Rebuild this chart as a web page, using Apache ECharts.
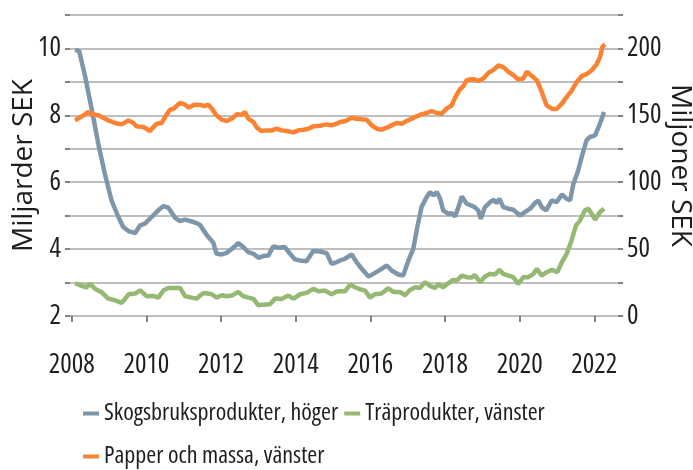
<!DOCTYPE html>
<html>
<head>
<meta charset="utf-8">
<script src="https://cdn.jsdelivr.net/npm/echarts@6/dist/echarts.min.js"></script>
<style>
  html, body { margin: 0; padding: 0; background: #fff; }
  #chart { width: 693px; height: 470px; }
</style>
</head>
<body>
<div id="chart"></div>
<script>
// year (decimal) / value
const skogsbruk = [ // Miljoner SEK, right axis
  [2008.09, 199], [2008.20, 198], [2008.36, 179], [2008.54, 154], [2008.71, 129],
  [2008.89, 106], [2009.07, 86], [2009.25, 74], [2009.38, 66.5], [2009.52, 63.5],
  [2009.70, 62], [2009.83, 67.7], [2009.96, 69], [2010.14, 74], [2010.32, 79],
  [2010.46, 82.2], [2010.59, 81], [2010.77, 73.4], [2010.90, 71], [2011.04, 72],
  [2011.17, 71], [2011.35, 69.4], [2011.44, 68], [2011.53, 64], [2011.66, 59],
  [2011.79, 55], [2011.88, 46.5], [2012.02, 46], [2012.15, 47.2], [2012.29, 50.2],
  [2012.46, 54.5], [2012.60, 51.5], [2012.73, 47.7], [2012.87, 46.5], [2013.00, 43.5],
  [2013.13, 44.8], [2013.27, 45.3], [2013.40, 52], [2013.54, 51], [2013.71, 51.5],
  [2013.85, 46.5], [2013.98, 42.3], [2014.12, 41.5], [2014.29, 41], [2014.47, 48.5],
  [2014.65, 48.2], [2014.83, 47], [2014.96, 39], [2015.10, 40.3], [2015.19, 41.5],
  [2015.32, 42.8], [2015.50, 46], [2015.63, 40.3], [2015.77, 35.3], [2015.95, 29.5],
  [2016.08, 31.5], [2016.26, 34.5], [2016.44, 37.8], [2016.57, 34], [2016.75, 31],
  [2016.88, 30.3], [2017.02, 41.5], [2017.15, 50.2], [2017.24, 64], [2017.37, 81.4],
  [2017.51, 88.9], [2017.60, 92.6], [2017.69, 90.1], [2017.78, 92.6], [2017.87, 87.6],
  [2017.95, 78.9], [2018.09, 76.4], [2018.18, 76.9], [2018.27, 74.4], [2018.36, 81.4],
  [2018.45, 89.4], [2018.58, 83.9], [2018.71, 82.5], [2018.80, 81.2], [2018.89, 78.9],
  [2018.96, 72.7], [2019.07, 81.4], [2019.21, 85.1], [2019.30, 86.9], [2019.38, 84.4],
  [2019.46, 87.6], [2019.56, 81.4], [2019.70, 80.2], [2019.83, 79.4], [2020.01, 75.2],
  [2020.14, 77.7], [2020.28, 80.2], [2020.41, 84.4], [2020.50, 86.4], [2020.59, 81.4],
  [2020.71, 78.9], [2020.86, 86.4], [2020.99, 85.1], [2021.13, 90.9], [2021.26, 87.6],
  [2021.35, 86.4], [2021.44, 98.9], [2021.57, 108.9], [2021.66, 118.8], [2021.79, 131.3],
  [2021.88, 133.8], [2022.02, 135], [2022.15, 143.7], [2022.26, 152.5]
];

const traprodukter = [ // Miljarder SEK, left axis
  [2008.09, 2.98], [2008.27, 2.90], [2008.40, 2.86], [2008.49, 2.96], [2008.63, 2.81],
  [2008.80, 2.71], [2008.98, 2.52], [2009.16, 2.47], [2009.34, 2.39], [2009.52, 2.65],
  [2009.70, 2.67], [2009.83, 2.77], [2010.01, 2.59], [2010.19, 2.60], [2010.32, 2.55],
  [2010.46, 2.77], [2010.59, 2.84], [2010.77, 2.84], [2010.90, 2.84], [2011.04, 2.59],
  [2011.21, 2.55], [2011.35, 2.52], [2011.48, 2.65], [2011.57, 2.69], [2011.75, 2.65],
  [2011.88, 2.55], [2012.02, 2.62], [2012.15, 2.59], [2012.29, 2.61], [2012.46, 2.72],
  [2012.60, 2.59], [2012.73, 2.55], [2012.87, 2.51], [2013.00, 2.32], [2013.13, 2.34],
  [2013.31, 2.35], [2013.45, 2.52], [2013.62, 2.51], [2013.80, 2.61], [2013.94, 2.52],
  [2014.12, 2.65], [2014.29, 2.69], [2014.47, 2.81], [2014.61, 2.74], [2014.79, 2.76],
  [2014.96, 2.65], [2015.10, 2.73], [2015.19, 2.74], [2015.32, 2.74], [2015.46, 2.94],
  [2015.59, 2.86], [2015.72, 2.80], [2015.86, 2.76], [2015.99, 2.55], [2016.12, 2.65],
  [2016.30, 2.67], [2016.48, 2.83], [2016.62, 2.72], [2016.79, 2.72], [2016.93, 2.62],
  [2017.06, 2.78], [2017.20, 2.86], [2017.33, 2.84], [2017.46, 3.01], [2017.60, 2.90],
  [2017.73, 2.84], [2017.82, 2.94], [2017.95, 2.86], [2018.09, 2.98], [2018.22, 3.08],
  [2018.31, 3.06], [2018.45, 3.21], [2018.58, 3.16], [2018.71, 3.15], [2018.80, 3.22],
  [2018.94, 3.01], [2019.07, 3.18], [2019.21, 3.26], [2019.34, 3.24], [2019.46, 3.38],
  [2019.56, 3.26], [2019.70, 3.21], [2019.83, 3.16], [2019.96, 2.96], [2020.10, 3.16],
  [2020.23, 3.16], [2020.37, 3.26], [2020.46, 3.41], [2020.59, 3.21], [2020.72, 3.31],
  [2020.86, 3.38], [2021.01, 3.31], [2021.13, 3.61], [2021.26, 3.86], [2021.39, 4.26],
  [2021.51, 4.71], [2021.62, 4.86], [2021.75, 5.16], [2021.84, 5.21], [2021.93, 5.06],
  [2022.02, 4.88], [2022.15, 5.11], [2022.26, 5.21]
];

const papper = [ // Miljarder SEK, left axis
  [2008.09, 7.85], [2008.27, 7.97], [2008.45, 8.10], [2008.54, 8.03], [2008.71, 8.00],
  [2008.80, 7.95], [2008.98, 7.85], [2009.16, 7.77], [2009.34, 7.73], [2009.52, 7.85],
  [2009.65, 7.77], [2009.74, 7.67], [2009.92, 7.65], [2010.10, 7.53], [2010.19, 7.65],
  [2010.28, 7.75], [2010.41, 7.77], [2010.50, 7.95], [2010.63, 8.17], [2010.72, 8.19],
  [2010.90, 8.37], [2011.04, 8.32], [2011.14, 8.23], [2011.26, 8.31], [2011.39, 8.32],
  [2011.57, 8.28], [2011.66, 8.32], [2011.75, 8.20], [2011.88, 8.00], [2012.02, 7.87],
  [2012.15, 7.83], [2012.29, 7.90], [2012.42, 8.03], [2012.55, 8.02], [2012.64, 8.10],
  [2012.73, 7.90], [2012.87, 7.80], [2012.96, 7.63], [2013.09, 7.53], [2013.22, 7.55],
  [2013.36, 7.55], [2013.49, 7.60], [2013.62, 7.55], [2013.76, 7.53], [2013.94, 7.49],
  [2014.07, 7.55], [2014.21, 7.57], [2014.34, 7.60], [2014.47, 7.67], [2014.65, 7.69],
  [2014.83, 7.73], [2014.96, 7.70], [2015.10, 7.75], [2015.19, 7.80], [2015.32, 7.82],
  [2015.50, 7.93], [2015.63, 7.90], [2015.77, 7.88], [2015.90, 7.87], [2016.04, 7.70],
  [2016.17, 7.60], [2016.30, 7.57], [2016.44, 7.63], [2016.57, 7.70], [2016.70, 7.77],
  [2016.84, 7.75], [2016.97, 7.83], [2017.11, 7.90], [2017.24, 7.97], [2017.37, 8.03],
  [2017.51, 8.07], [2017.64, 8.13], [2017.78, 8.07], [2017.91, 8.05], [2018.04, 8.20],
  [2018.18, 8.30], [2018.27, 8.53], [2018.40, 8.78], [2018.49, 8.87], [2018.58, 9.05],
  [2018.71, 9.08], [2018.80, 9.07], [2018.89, 9.03], [2019.03, 9.10], [2019.16, 9.27],
  [2019.30, 9.36], [2019.43, 9.49], [2019.56, 9.44], [2019.70, 9.30], [2019.83, 9.20],
  [2019.96, 9.08], [2020.10, 9.10], [2020.19, 9.30], [2020.32, 9.18], [2020.46, 9.05],
  [2020.59, 8.70], [2020.72, 8.30], [2020.86, 8.20], [2020.99, 8.19], [2021.13, 8.35],
  [2021.26, 8.55], [2021.39, 8.73], [2021.53, 9.00], [2021.66, 9.17], [2021.79, 9.23],
  [2021.93, 9.35], [2022.06, 9.52], [2022.15, 9.74], [2022.22, 10.06], [2022.29, 10.12]
];

const yearTicks = [2008, 2010, 2012, 2014, 2016, 2018, 2020, 2022];
const leftLabels = [2, 4, 6, 8, 10];
const rightLabels = [0, 50, 100, 150, 200];
const seriesNames = ['Skogsbruksprodukter, höger', 'Träprodukter, vänster', 'Papper och massa, vänster'];

// condensed Open Sans: 'condensed' goes into the canvas font string via fontWeight
const condFont = { fontFamily: '"Open Sans", sans-serif', fontWeight: 'condensed' };
const textCol = '#1e1e1e';
const gridCol = '#a8a8a8';
const tickCol = '#5a5a5a';

let chart = echarts.init(document.getElementById('chart'));

let option = {
  animation: false,
  grid: { left: 70, right: 75, top: 15, bottom: 154, outerBoundsMode: 'none', containLabel: false },
  legend: {
    data: seriesNames,
    left: 83,
    top: 395,
    width: 500,
    padding: 0,
    itemGap: 6,
    itemWidth: 16,
    itemHeight: 4,
    icon: 'rect',
    textStyle: Object.assign({ fontSize: 24, color: textCol, lineHeight: 37 }, condFont)
  },
  xAxis: {
    type: 'value',
    min: 2007.954,
    max: 2022.634,
    offset: 18,
    axisLine: { show: false },
    axisTick: { show: true, length: 6, customValues: yearTicks, lineStyle: { color: tickCol, width: 1.5 } },
    axisLabel: Object.assign({
      customValues: yearTicks,
      formatter: function (v) { return String(v) },
      fontSize: 27, color: textCol, margin: 18
    }, condFont),
    splitLine: { show: false }
  },
  yAxis: [
    {
      type: 'value',
      min: 2,
      max: 11,
      interval: 1,
      name: 'Miljarder SEK',
      nameLocation: 'middle',
      nameGap: 32,
      nameMoveOverlap: false,
      nameTextStyle: { fontFamily: '"Open Sans", sans-serif', fontSize: 28, color: textCol },
      axisLine: { show: false },
      axisTick: { show: true, length: 5, lineStyle: { color: tickCol, width: 1.5 } },
      axisLabel: Object.assign({ customValues: leftLabels, fontSize: 27, color: textCol, margin: 9 }, condFont),
      splitLine: { show: true, lineStyle: { color: gridCol, width: 1.5 } }
    },
    {
      type: 'value',
      min: 0,
      max: 225,
      interval: 25,
      position: 'right',
      name: 'Miljoner SEK',
      nameLocation: 'middle',
      nameRotate: -90,
      nameGap: 48,
      nameMoveOverlap: false,
      nameTextStyle: { fontFamily: '"Open Sans", sans-serif', fontSize: 28, color: textCol },
      axisLine: { show: false },
      axisTick: { show: true, length: 5, lineStyle: { color: tickCol, width: 1.5 } },
      axisLabel: Object.assign({ customValues: rightLabels, fontSize: 27, color: textCol, margin: 9 }, condFont),
      splitLine: { show: false }
    }
  ],
  series: [
    {
      name: seriesNames[0], type: 'line', yAxisIndex: 1, data: skogsbruk,
      showSymbol: false, symbol: 'none', color: '#7d96aa',
      lineStyle: { width: 4.5, color: '#7d96aa' }
    },
    {
      name: seriesNames[1], type: 'line', yAxisIndex: 0, data: traprodukter,
      showSymbol: false, symbol: 'none', color: '#95b872',
      lineStyle: { width: 4.5, color: '#95b872' }
    },
    {
      name: seriesNames[2], type: 'line', yAxisIndex: 0, data: papper,
      showSymbol: false, symbol: 'none', color: '#fa8233',
      lineStyle: { width: 4.5, color: '#fa8233' }
    }
  ]
};

chart.setOption(option);
</script>
</body>
</html>
